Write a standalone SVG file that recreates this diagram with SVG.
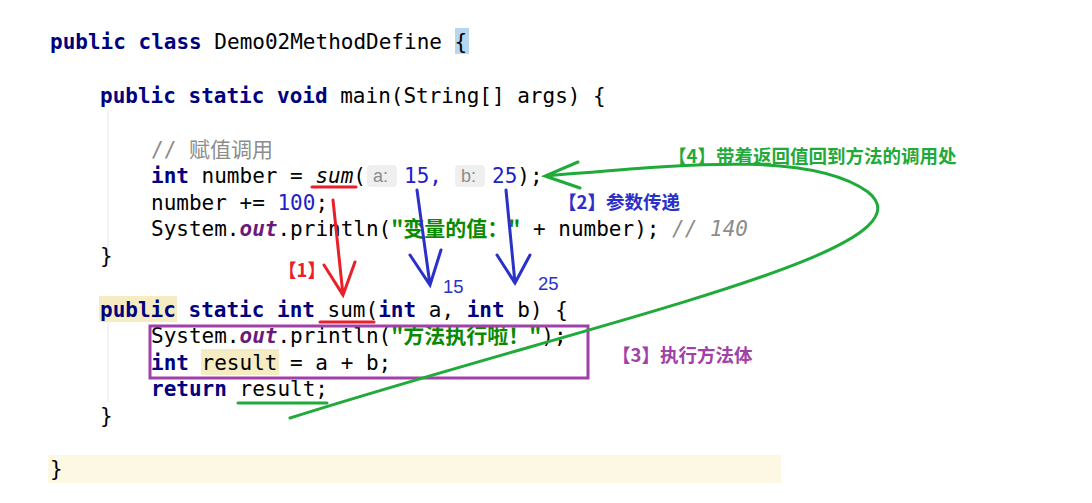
<svg xmlns="http://www.w3.org/2000/svg" width="1092" height="503" viewBox="0 0 1092 503">
<style>
.c{font-family:"DejaVu Sans Mono","Liberation Mono","Noto Sans CJK SC",monospace;font-size:21px;fill:#000;white-space:pre}
.k{fill:#00007f;font-weight:bold}
.n{fill:#1e22c8}
.s{fill:#0a8a00;font-weight:bold;font-family:"Noto Sans CJK SC",sans-serif}
.f{fill:#6a1a7a;font-style:italic;font-weight:bold}
.cm{fill:#8c8c8c}
.h{fill:#8c8c8c;font-family:"Liberation Sans",sans-serif;font-size:18px}
.lab{font-family:"Noto Sans CJK SC",sans-serif;font-size:18.5px;font-weight:bold}
</style>
<rect width="1092" height="503" fill="#fff"/>
<rect x="48" y="455" width="733" height="28" fill="#fdf8e4"/>
<rect x="455" y="28" width="14" height="26" fill="#b7d6f0"/>
<rect x="99" y="296" width="78" height="26" fill="#f5ecc4"/>
<rect x="201" y="349" width="78" height="26" fill="#f5ecc4"/>
<rect x="367" y="165" width="30" height="22" rx="4" fill="#efefef"/>
<rect x="455" y="165" width="30" height="22" rx="4" fill="#efefef"/>
<line x1="108" y1="110" x2="108" y2="262" stroke="#e6e6e6"/>
<line x1="108" y1="322" x2="108" y2="402" stroke="#e6e6e6"/>
<g id="code">
<text class="c" x="50" y="49"><tspan class="k">public class</tspan> Demo02MethodDefine {</text>
<text class="c" x="100" y="103"><tspan class="k">public static void</tspan> main(String[] args) {</text>
<text class="c cm" x="151" y="157">// 赋值调用</text>
<text class="c" x="151" y="183"><tspan class="k">int</tspan> number = <tspan style="font-style:italic">sum</tspan>(</text>
<text class="h" x="373" y="182">a:</text><text class="c n" x="404" y="183">15,</text>
<text class="h" x="461" y="182">b:</text><text class="c" x="492" y="183"><tspan class="n">25</tspan>);</text>
<text class="c" x="151" y="210">number += <tspan class="n">100</tspan>;</text>
<text class="c" x="151" y="236">System.<tspan class="f">out</tspan>.println(<tspan class="s">"变量的值："</tspan> + number); <tspan class="cm" style="font-style:italic">// 140</tspan></text>
<text class="c" x="100" y="263">}</text>
<text class="c" x="100" y="317"><tspan class="k">public static int</tspan> sum(<tspan class="k">int</tspan> a, <tspan class="k">int</tspan> b) {</text>
<text class="c" x="151" y="343">System.<tspan class="f">out</tspan>.println(<tspan class="s">"方法执行啦！"</tspan>);</text>
<text class="c" x="151" y="370"><tspan class="k">int</tspan> result = a + b;</text>
<text class="c" x="151" y="396"><tspan class="k">return</tspan> result;</text>
<text class="c" x="100" y="423">}</text>
<text class="c" x="50" y="476">}</text>
</g>
<g id="annotations" fill="none" stroke-width="3" stroke-linecap="round">
<line x1="312" y1="187" x2="356" y2="187" stroke="#e8202a"/>
<line x1="320" y1="322" x2="374" y2="322" stroke="#e8202a"/>
<path d="M333,200 L343,295 M324,265 L343,295 L355,262" stroke="#e8202a"/>
<path d="M417,190 L430,285 M410,255 L430,285 L441,250" stroke="#2a30c8"/>
<path d="M506,190 L515,283 M497,255 L515,283 L530,255" stroke="#2a30c8"/>
<rect x="150" y="326" width="438" height="52" stroke="#a040a8"/>
<line x1="238" y1="403" x2="327" y2="403" stroke="#1faa3a"/>
<path d="M290,418 C600,320 940,250 868,192 C810,150 680,165 545,176 M578,162 L545,176 L580,188" stroke="#1faa3a"/>
</g>
<g id="labels" class="lab">
<text x="278" y="277" fill="#e8202a">【1】</text>
<text x="443" y="293" fill="#2a30c8" style="font-family:'Liberation Sans',sans-serif;font-weight:normal">15</text>
<text x="538" y="290" fill="#2a30c8" style="font-family:'Liberation Sans',sans-serif;font-weight:normal">25</text>
<text x="558" y="209" fill="#2a30c8">【2】参数传递</text>
<text x="612" y="362" fill="#a040a8">【3】执行方法体</text>
<text x="668" y="163" fill="#1faa3a">【4】带着返回值回到方法的调用处</text>
</g>
</svg>
